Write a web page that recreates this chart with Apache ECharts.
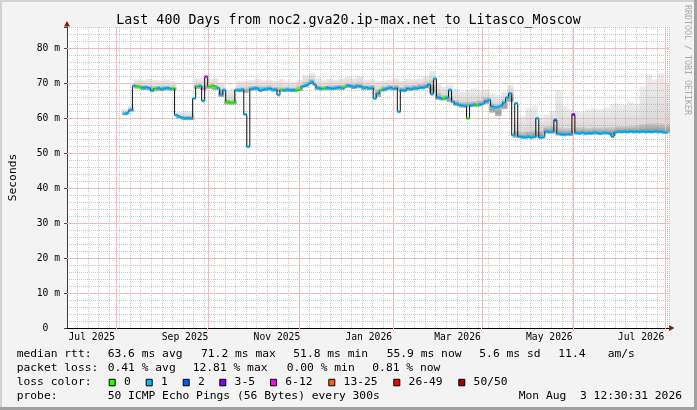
<!DOCTYPE html>
<html>
<head>
<meta charset="utf-8">
<script src="https://cdn.jsdelivr.net/npm/echarts@6/dist/echarts.min.js"></script>
<style>
  html, body { margin: 0; padding: 0; background: #f3f3f3; }
  #main { width: 697px; height: 410px; }
</style>
</head>
<body>
<div id="main"></div>
<script>
// graph window: 400 days ending Mon Aug 3 12:30:31 2026
var START = Date.UTC(2025, 5, 29, 12, 30, 31);
var RANGE_DAYS = 400;
function dayOf(s) { return (Date.parse(s + 'T00:00:00Z') - START) / 86400000; }

var titleText = 'Last 400 Days from noc2.gva20.ip-max.net to Litasco_Moscow';

// x axis labels (centred mid-month) and major grid (every 2nd month)
var monthLabels = ['Jul 2025', 'Sep 2025', 'Nov 2025', 'Jan 2026', 'Mar 2026', 'May 2026', 'Jul 2026'];
var monthLabelDates = ['2025-07-16', '2025-09-16', '2025-11-16', '2026-01-16', '2026-03-16', '2026-05-16', '2026-07-16'];
var majorGridDates = ['2025-08-01', '2025-10-01', '2025-12-01', '2026-02-01', '2026-04-01', '2026-06-01', '2026-08-01'];
var majorGridMs = [10, 20, 30, 40, 50, 60, 70, 80];

// median rtt (ms), one value every 2 days from medianStart
var medianStart = '2025-08-07';
var medianStepDays = 2;
var median = [
  61.2, 61.5, 62.3, 69.2, 68.9, 68.8, 68.6, 68.8, 68.5, 67.8,
  68.4, 68.6, 68.2, 68.5, 68.6, 68.3, 68.5, 60.8, 60.3, 60.0,
  59.9, 60.0, 59.9, 65.6, 69.0, 69.2, 64.9, 71.8, 69.0, 69.3,
  68.8, 68.5, 66.6, 68.0, 64.6, 64.3, 64.4, 68.0, 67.9, 68.2,
  61.0, 51.8, 68.3, 68.6, 68.4, 67.8, 68.2, 68.3, 68.4, 68.0,
  68.2, 66.6, 68.0, 67.9, 68.1, 67.9, 68.0, 67.8, 68.3, 69.0,
  69.4, 69.8, 70.3, 69.6, 68.6, 68.3, 68.5, 68.7, 68.5, 68.4,
  68.6, 68.8, 68.5, 68.9, 69.3, 69.1, 68.8, 69.2, 69.0, 68.5,
  68.7, 68.4, 68.6, 65.6, 67.0, 67.9, 68.2, 68.4, 68.7, 68.3,
  68.6, 61.8, 68.0, 67.8, 68.4, 68.2, 68.6, 68.4, 68.8, 68.6,
  69.0, 69.6, 66.8, 71.2, 65.8, 65.5, 65.6, 65.8, 68.0, 64.6,
  64.0, 63.7, 63.5, 63.4, 59.9, 63.6, 63.8, 63.6, 63.9, 64.2,
  64.8, 65.2, 63.3, 63.0, 63.2, 63.6, 64.4, 65.8, 67.0, 55.1,
  64.2, 54.7, 54.5, 54.4, 54.6, 54.4, 54.6, 59.9, 54.4, 54.5,
  56.1, 56.0, 56.0, 59.4, 55.5, 55.3, 55.2, 55.4, 55.3, 61.0,
  55.7, 55.6, 55.8, 55.5, 55.7, 55.6, 55.8, 55.7, 55.5, 55.8,
  55.7, 55.6, 54.7, 55.9, 56.1, 56.0, 56.1, 56.0, 56.2, 56.0,
  56.1, 56.0, 56.2, 56.0, 56.1, 56.0, 56.2, 56.0, 56.1, 55.9, 55.9
];
// loss class index per median value (0 = "0", 1 = "1", 2 = "2", 3 = "3-5", 4 = "6-12", ...)
var lossClass = [
  1, 1, 1, 1, 0, 0, 1, 1, 1, 1,
  0, 1, 1, 1, 1, 1, 0, 1, 1, 1,
  1, 1, 1, 1, 0, 1, 1, 4, 0, 0,
  0, 1, 1, 1, 0, 0, 0, 1, 1, 1,
  1, 1, 1, 1, 1, 1, 1, 1, 1, 1,
  1, 1, 0, 1, 1, 1, 1, 0, 0, 1,
  1, 1, 1, 1, 1, 1, 0, 1, 1, 1,
  1, 1, 1, 0, 1, 1, 1, 1, 1, 1,
  1, 1, 1, 1, 1, 0, 1, 1, 1, 1,
  1, 1, 1, 1, 1, 1, 1, 1, 1, 1,
  1, 1, 1, 1, 1, 1, 0, 1, 1, 1,
  1, 1, 1, 1, 0, 1, 1, 0, 1, 1,
  1, 1, 1, 1, 1, 1, 1, 1, 1, 1,
  1, 1, 1, 1, 1, 1, 1, 1, 1, 1,
  1, 1, 1, 2, 1, 1, 1, 1, 1, 3,
  1, 1, 1, 1, 1, 1, 1, 1, 1, 1,
  1, 1, 1, 1, 1, 1, 1, 1, 1, 1,
  1, 1, 1, 1, 1, 1, 1, 1, 1, 1, 1
];

// smoke (ping spread, ms), one bin every 4 days from medianStart
var smokeStepDays = 4;
var smokeLo = [
  60.8, 61.8, 68.4, 68.0, 67.9, 67.6, 67.7, 67.9, 67.8, 59.7,
  59.4, 59.4, 68.3, 68.0, 68.3, 68.0, 66.0, 63.8, 63.8, 67.4,
  67.2, 67.8, 67.8, 67.6, 67.8, 67.5, 67.4, 67.5, 67.4, 67.7,
  68.7, 69.6, 68.0, 67.9, 67.9, 68.0, 68.0, 68.6, 68.3, 68.5,
  68.1, 68.0, 66.0, 67.6, 68.0, 67.9, 67.4, 67.8, 67.9, 68.2,
  68.4, 67.0, 65.2, 65.0, 64.5, 63.5, 63.0, 63.0, 63.2, 63.3,
  64.0, 61.5, 60.5, 62.5, 64.5, 54.3, 54.2, 54.3, 54.3, 54.3,
  55.6, 55.6, 55.0, 55.0, 55.0, 55.3, 55.3, 55.3, 55.3, 55.2,
  55.3, 55.0, 55.7, 55.7, 55.8, 55.7, 55.8, 55.7, 55.8, 55.7, 55.7
];
var smokeMid = [
  61.8, 62.8, 69.8, 69.5, 69.3, 69.2, 69.2, 69.3, 69.0, 60.8,
  60.6, 60.6, 69.8, 69.6, 69.8, 69.6, 68.5, 65.5, 65.4, 68.8,
  68.8, 69.2, 69.3, 69.2, 69.4, 69.0, 68.9, 68.9, 68.8, 69.4,
  70.5, 71.3, 69.6, 69.3, 69.4, 69.5, 69.6, 70.2, 70.0, 70.3,
  69.6, 69.6, 68.5, 69.2, 69.6, 69.6, 69.0, 69.4, 69.5, 69.8,
  70.3, 71.0, 67.5, 66.8, 66.5, 65.2, 64.8, 64.8, 65.0, 65.2,
  66.2, 64.5, 64.0, 65.5, 67.5, 56.5, 56.0, 56.5, 56.8, 56.5,
  57.8, 58.0, 57.5, 57.2, 57.3, 57.5, 57.5, 57.3, 57.4, 57.4,
  57.5, 57.6, 57.8, 57.8, 57.9, 58.0, 58.5, 58.8, 58.8, 58.6, 58.5
];
var smokeHi = [
  62.5, 63.5, 71.0, 70.8, 71.2, 70.9, 70.8, 71.0, 70.4, 61.7,
  62.0, 61.8, 71.3, 71.6, 71.2, 71.5, 70.2, 67.8, 68.5, 70.5,
  70.6, 70.8, 71.3, 70.8, 71.0, 70.6, 71.2, 70.4, 70.3, 71.0,
  72.4, 73.0, 71.5, 70.8, 71.2, 70.9, 71.3, 71.8, 71.5, 72.0,
  71.0, 71.2, 70.5, 70.7, 71.0, 71.4, 70.6, 71.2, 71.0, 71.3,
  72.0, 73.5, 70.0, 69.0, 69.5, 68.3, 67.5, 68.0, 68.5, 67.8,
  68.2, 67.0, 66.5, 67.5, 69.5, 59.5, 60.5, 63.0, 63.5, 60.0,
  61.0, 62.0, 68.0, 63.5, 62.5, 62.0, 61.8, 62.5, 62.8, 62.5,
  63.0, 64.0, 64.2, 63.8, 64.5, 64.0, 69.0, 72.5, 71.0, 72.8, 70.0
];

var lossNames = ['0', '1', '2', '3-5', '6-12', '13-25', '26-49', '50/50'];
var lossColors = ['#26ff00', '#00b8ff', '#0059ff', '#7e00ff', '#ff00ff', '#ff5e00', '#ff0000', '#a10000'];

var rttStats = ['63.6 ms avg', '71.2 ms max', '51.8 ms min', '55.9 ms now', '5.6 ms sd', '11.4', 'am/s'];
var lossStats = ['0.41 % avg', '12.81 % max', '0.00 % min', '0.81 % now'];
var probeText = '50 ICMP Echo Pings (56 Bytes) every 300s';
var stampText = 'Mon Aug  3 12:30:31 2026';

// legend layout (pixels)
var rttX = [107.7, 201, 293.3, 386.7, 479.3, 558.3, 607.7];
var lossX = [107.7, 192.7, 286.7, 372.3];
var swatchX = [108.7, 145.7, 182.7, 219.3, 270, 328.3, 393.3, 458.3];
var rowY = [354.3, 368.3, 382.3, 396.2];

var MONO = '"DejaVu Sans Mono", monospace';
var MINOR = { color: 'rgba(150,150,150,0.5)', type: [1, 1], width: 1 };
var MAJOR_COLOR = '#f6b8b8';

var d0 = dayOf(medianStart);
var medianLine = median.map(function (v, i) { return [d0 + i * medianStepDays, v]; });
var lossPoints = median.map(function (v, i) { return [d0 + i * medianStepDays, v, lossClass[i]]; });
var smokeData = smokeLo.map(function (v, j) { return [d0 + j * smokeStepDays, v, smokeMid[j], smokeHi[j]]; });
var labelDays = monthLabelDates.map(dayOf);
var majorDays = majorGridDates.map(dayOf);

var smokeLight = new echarts.graphic.LinearGradient(0, 0, 0, 1, [
  { offset: 0, color: '#ededed' }, { offset: 1, color: '#dadada' }
]);
var smokeDark = new echarts.graphic.LinearGradient(0, 0, 0, 1, [
  { offset: 0, color: '#d6d6d6' }, { offset: 0.7, color: '#9e9e9e' }, { offset: 1, color: '#bcbcbc' }
]);

function renderSmoke(params, api) {
  var x = api.value(0);
  var w = api.size([smokeStepDays, 0])[0];
  var pLo = api.coord([x, api.value(1)]);
  var pMid = api.coord([x, api.value(2)]);
  var pHi = api.coord([x, api.value(3)]);
  var left = pLo[0] - w / 2;
  return {
    type: 'group',
    children: [
      { type: 'rect', shape: { x: left, y: pHi[1], width: w + 0.4, height: pMid[1] - pHi[1] }, style: { fill: smokeLight } },
      { type: 'rect', shape: { x: left, y: pMid[1], width: w + 0.4, height: pLo[1] - pMid[1] }, style: { fill: smokeDark } }
    ]
  };
}

// major grid drawn as thin pink bars, snapped to whole pixels
function renderMajorV(params, api) {
  var cs = params.coordSys;
  var x = Math.round(api.coord([api.value(0), 0])[0]);
  return { type: 'rect', shape: { x: x, y: cs.y, width: 1, height: cs.height },
    style: { fill: MAJOR_COLOR } };
}
function renderMajorH(params, api) {
  var cs = params.coordSys;
  var y = Math.round(api.coord([0, api.value(1)])[1]);
  return { type: 'rect', shape: { x: cs.x, y: y, width: cs.width, height: 1 },
    style: { fill: MAJOR_COLOR } };
}

function txt(x, y, s, opt) {
  opt = opt || {};
  return {
    type: 'text', x: x, y: y, rotation: opt.rotation || 0, silent: true,
    style: {
      text: s, fill: opt.color || '#000', font: (opt.size || 11.3) + 'px ' + MONO,
      textAlign: opt.align || 'left', textVerticalAlign: 'middle'
    }
  };
}

var graphics = [
  // frame
  { type: 'rect', shape: { x: 0, y: 0, width: 697, height: 2 }, style: { fill: '#d2d2d2' }, silent: true },
  { type: 'rect', shape: { x: 0, y: 0, width: 2, height: 410 }, style: { fill: '#d2d2d2' }, silent: true },
  { type: 'rect', shape: { x: 694, y: 0, width: 3, height: 410 }, style: { fill: '#a0a0a0' }, silent: true },
  { type: 'rect', shape: { x: 0, y: 407, width: 697, height: 3 }, style: { fill: '#a0a0a0' }, silent: true },
  // axis arrows
  { type: 'polygon', shape: { points: [[64, 26.5], [70, 26.5], [67, 21]] }, style: { fill: '#7f1d1d' }, silent: true },
  { type: 'polygon', shape: { points: [[669, 325], [669, 331], [674.5, 328]] }, style: { fill: '#7f1d1d' }, silent: true },
  txt(687.5, 5, 'RRDTOOL / TOBI OETIKER', { rotation: -Math.PI / 2, size: 8.3, color: '#aaaaaa' }),
  txt(16.7, rowY[0], 'median rtt:'),
  txt(16.7, rowY[1], 'packet loss:'),
  txt(16.7, rowY[2], 'loss color:'),
  txt(16.7, rowY[3], 'probe:'),
  txt(107.7, rowY[3], probeText),
  txt(682, rowY[3], stampText, { align: 'right' })
];
rttStats.forEach(function (s, k) { graphics.push(txt(rttX[k], rowY[0], s)); });
lossStats.forEach(function (s, k) { graphics.push(txt(lossX[k], rowY[1], s)); });
lossNames.forEach(function (s, k) {
  graphics.push({
    type: 'rect', silent: true,
    shape: { x: swatchX[k] + 0.5, y: rowY[2] - 3, width: 6, height: 6.5 },
    style: { fill: lossColors[k], stroke: '#000', lineWidth: 1 }
  });
  graphics.push(txt(swatchX[k] + 15.3, rowY[2], s));
});

var chart = echarts.init(document.getElementById('main'));
var option = {
  backgroundColor: '#f3f3f3',
  animation: false,
  title: {
    text: titleText, left: 'center', top: 9,
    textStyle: { fontFamily: MONO, fontSize: 13.3, fontWeight: 'normal', color: '#000' }
  },
  grid: {
    left: 67, right: 28, top: 27, bottom: 82,
    containLabel: false, outerBoundsMode: 'none',
    show: true, backgroundColor: '#ffffff', borderWidth: 0
  },
  xAxis: [
    {
      // weekly minor grid + month labels
      type: 'value', min: 0, max: RANGE_DAYS, interval: 7, z: 1.2,
      axisLine: { show: true, lineStyle: { color: '#000', width: 1 } },
      axisTick: { show: false },
      axisLabel: {
        customValues: labelDays, margin: 4,
        fontFamily: MONO, fontSize: 9.7, color: '#000',
        formatter: function (v) {
          for (var k = 0; k < labelDays.length; k++) {
            if (Math.abs(labelDays[k] - v) < 1e-6) return monthLabels[k];
          }
          return '';
        }
      },
      splitLine: { show: true, lineStyle: MINOR }
    },
    {
      // tick marks at the major grid
      type: 'value', min: 0, max: RANGE_DAYS, position: 'bottom', z: 1.2,
      axisLine: { show: false },
      axisLabel: { show: false },
      axisTick: { show: true, customValues: majorDays, length: 3, lineStyle: { color: MAJOR_COLOR } },
      splitLine: { show: false }
    }
  ],
  yAxis: [
    {
      type: 'value', min: 0, max: 86, interval: 10, z: 1.2,
      name: 'Seconds', nameLocation: 'middle', nameGap: 48.5, nameRotate: 90,
      nameTextStyle: { fontFamily: MONO, fontSize: 11.3, color: '#000' },
      axisLine: { show: true, lineStyle: { color: '#4a3a3a', width: 1 } },
      axisTick: { show: true, length: 3, lineStyle: { color: '#444' } },
      axisLabel: {
        margin: 7, fontFamily: MONO, fontSize: 9.7, color: '#000',
        formatter: function (v) {
          if (v === 0) return '0  ';
          return v % 10 === 0 ? v + ' m' : '';
        }
      },
      splitLine: { show: false }
    },
    {
      // 2 ms minor grid
      type: 'value', min: 0, max: 86, interval: 2, position: 'left', z: 1.1,
      axisLine: { show: false }, axisTick: { show: false }, axisLabel: { show: false },
      splitLine: { show: true, lineStyle: MINOR }
    }
  ],
  series: [
    {
      name: 'smoke', type: 'custom', renderItem: renderSmoke, data: smokeData,
      encode: { x: 0, y: [1, 2, 3] }, silent: true, z: 1
    },
    {
      name: 'major grid x', type: 'custom', renderItem: renderMajorV,
      data: majorDays.map(function (d) { return [d, 0]; }), encode: { x: 0, y: 1 }, silent: true, z: 1.5
    },
    {
      name: 'major grid y', type: 'custom', renderItem: renderMajorH,
      data: majorGridMs.map(function (v) { return [0, v]; }), encode: { x: 0, y: 1 }, silent: true, z: 1.5
    },
    {
      name: 'median', type: 'line', data: medianLine, step: 'middle', symbol: 'none',
      lineStyle: { color: '#111', width: 1 }, silent: true, z: 2
    },
    {
      name: 'loss', type: 'scatter', data: lossPoints, symbol: 'rect', symbolSize: [3.2, 3],
      itemStyle: { color: function (p) { return lossColors[p.value[2]]; } }, silent: true, z: 3
    }
  ],
  graphic: graphics
};
chart.setOption(option);
</script>
</body>
</html>
